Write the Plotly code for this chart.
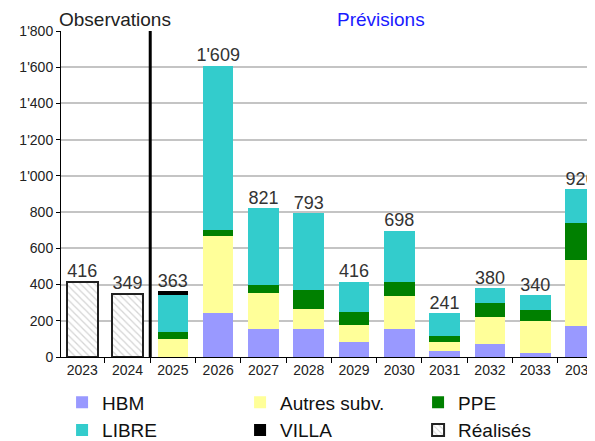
import plotly.graph_objects as go

years = ["2023", "2024", "2025", "2026", "2027", "2028", "2029", "2030",
         "2031", "2032", "2033", "2034"]

# logements realises (observations)
realises = [416, 349, None, None, None, None, None, None, None, None, None, None]

# previsions par categorie
hbm = [None, None, 0, 243, 153, 155, 81, 155, 35, 70, 20, 171]
autres = [None, None, 98, 427, 202, 110, 96, 180, 48, 153, 177, 365]
ppe = [None, None, 38, 33, 43, 107, 70, 79, 31, 75, 64, 206]
libre = [None, None, 206, 906, 423, 421, 169, 284, 127, 82, 79, 184]
villa = [None, None, 21, 0, 0, 0, 0, 0, 0, 0, 0, 0]

totals = [416, 349, 363, 1609, 821, 793, 416, 698, 241, 380, 340, 926]

font = "Liberation Sans, Arial, sans-serif"

fig = go.Figure()
fig.add_trace(go.Bar(x=years, y=hbm, name="HBM", marker=dict(color="#9999ff", line_width=0)))
fig.add_trace(go.Bar(x=years, y=autres, name="Autres subv.", marker=dict(color="#ffff99", line_width=0)))
fig.add_trace(go.Bar(x=years, y=ppe, name="PPE", marker=dict(color="#008000", line_width=0)))
fig.add_trace(go.Bar(x=years, y=libre, name="LIBRE", marker=dict(color="#33cccc", line_width=0)))
fig.add_trace(go.Bar(x=years, y=villa, name="VILLA", marker=dict(color="#000000", line_width=0)))
fig.add_trace(go.Bar(
    x=years, y=realises, name="Réalisés",
    marker=dict(
        color="white",
        line=dict(color="#222222", width=2),
        pattern=dict(shape="\\", fgcolor="#aaaaaa", bgcolor="white", size=5, solidity=0.25),
    ),
))
fig.add_trace(go.Scatter(
    x=years, y=totals, mode="text", texttemplate="%{y:,}",
    textposition="top center", textfont=dict(size=18, color="#333333", family=font),
    showlegend=False, hoverinfo="skip", cliponaxis=False,
))

# separation observations / previsions
fig.add_shape(type="line", xref="x", yref="paper", x0=1.5, x1=1.5, y0=0, y1=1,
              line=dict(color="black", width=3))

fig.add_annotation(text="Observations", xref="paper", yref="paper", x=-0.008, y=1.034,
                   xanchor="left", yanchor="middle", showarrow=False,
                   font=dict(size=19, color="#222222", family=font))
fig.add_annotation(text="Prévisions", xref="paper", yref="paper", x=0.599, y=1.034,
                   xanchor="center", yanchor="middle", showarrow=False,
                   font=dict(size=19, color="#1a1aff", family=font))

# la page a une marge de 8 px : figure un peu plus petite que la fenetre
fig.update_layout(
    width=587, height=433,
    margin=dict(l=53, r=0, t=23, b=84, autoexpand=False),
    barmode="stack",
    bargap=0.324,
    separators=".'",
    plot_bgcolor="white",
    paper_bgcolor="white",
    font=dict(family=font, size=14, color="#222222"),
    xaxis=dict(
        type="category", range=[-0.47, 11.32], automargin=False,
        showline=True, linecolor="black", linewidth=1,
        ticks="outside", tickson="boundaries", ticklen=5, tickcolor="black",
        tickfont=dict(size=14), showgrid=False,
    ),
    yaxis=dict(
        range=[0, 1800], dtick=200, tickformat=",d", automargin=False,
        showline=True, linecolor="black", linewidth=1,
        ticks="outside", ticklen=4, tickcolor="black",
        gridcolor="#c4c4c4", gridwidth=1.5, zeroline=False,
        tickfont=dict(size=14),
    ),
    legend=dict(
        orientation="h", x=0.002, xanchor="left", y=-0.081, yanchor="top",
        entrywidth=133, entrywidthmode="pixels", traceorder="normal",
        font=dict(size=19, color="#111111"), itemwidth=30, tracegroupgap=0,
    ),
    showlegend=True,
)

fig.write_html("out.html")
